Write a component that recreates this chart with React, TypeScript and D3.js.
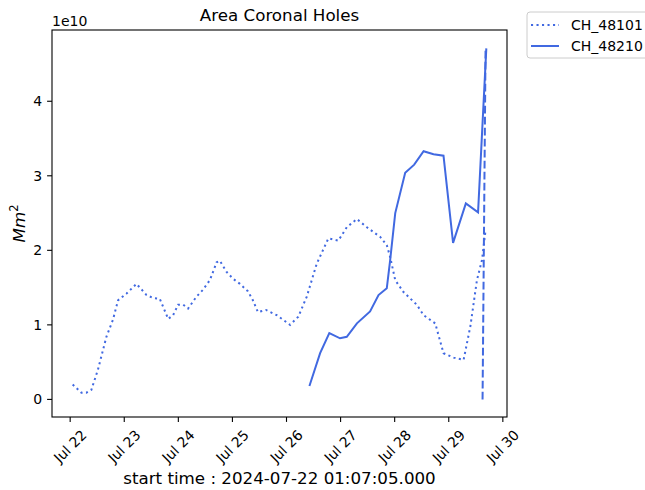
import React, { useEffect, useRef } from "react";
import * as d3 from "d3";

// values are in units of 1e10 Mm^2
const chartTitle = "Area Coronal Holes";
const startTime = "2024-07-22 01:07:05.000";

const ch48101Times = [
  "2024-07-22T01:07", "2024-07-22T05:00", "2024-07-22T07:10", "2024-07-22T09:25",
  "2024-07-22T12:20", "2024-07-22T16:05", "2024-07-22T19:00", "2024-07-22T21:15",
  "2024-07-23T01:00", "2024-07-23T05:25", "2024-07-23T09:55", "2024-07-23T12:50",
  "2024-07-23T15:45", "2024-07-23T19:30", "2024-07-23T21:40", "2024-07-23T23:55",
  "2024-07-24T02:10", "2024-07-24T04:20", "2024-07-24T08:05", "2024-07-24T10:55",
  "2024-07-24T14:00", "2024-07-24T17:00", "2024-07-24T18:25", "2024-07-24T21:25",
  "2024-07-25T00:15", "2024-07-25T03:20", "2024-07-25T06:55", "2024-07-25T09:05",
  "2024-07-25T11:20", "2024-07-25T14:55", "2024-07-25T19:40", "2024-07-26T01:35",
  "2024-07-26T05:15", "2024-07-26T09:00", "2024-07-26T13:25", "2024-07-26T18:35",
  "2024-07-26T23:00", "2024-07-27T02:45", "2024-07-27T07:15", "2024-07-27T11:40",
  "2024-07-27T17:35", "2024-07-27T20:30", "2024-07-27T22:00", "2024-07-28T00:15",
  "2024-07-28T03:55", "2024-07-28T09:50", "2024-07-28T12:50", "2024-07-28T18:00",
  "2024-07-28T21:40", "2024-07-29T02:10", "2024-07-29T06:35", "2024-07-29T09:35",
  "2024-07-29T12:30", "2024-07-29T14:45", "2024-07-29T16:15",
];
const ch48101Area = [
  0.2, 0.09, 0.09, 0.13, 0.4, 0.84, 1.07, 1.33,
  1.42, 1.55, 1.4, 1.36, 1.35, 1.08, 1.13, 1.27,
  1.27, 1.22, 1.38, 1.47, 1.6, 1.84, 1.86, 1.71,
  1.62, 1.55, 1.45, 1.33, 1.17, 1.2, 1.13, 1.0,
  1.11, 1.38, 1.82, 2.16, 2.13, 2.31, 2.42, 2.31,
  2.18, 2.07, 1.91, 1.6, 1.44, 1.27, 1.13, 1.02,
  0.62, 0.56, 0.53, 0.98, 1.6, 1.87, 2.25,
];

const ch48210Times = [
  "2024-07-26T10:10", "2024-07-26T14:55", "2024-07-26T19:00", "2024-07-26T23:45",
  "2024-07-27T02:45", "2024-07-27T07:15", "2024-07-27T13:05", "2024-07-27T16:50",
  "2024-07-27T20:30", "2024-07-27T22:00", "2024-07-28T00:15", "2024-07-28T04:40",
  "2024-07-28T08:40", "2024-07-28T12:50", "2024-07-28T17:15", "2024-07-28T21:40",
  "2024-07-29T01:55", "2024-07-29T07:35", "2024-07-29T13:00", "2024-07-29T16:40",
];
const ch48210Area = [
  0.18, 0.62, 0.89, 0.82, 0.84, 1.02, 1.18, 1.4,
  1.49, 1.87, 2.5, 3.04, 3.15, 3.33, 3.29, 3.27,
  2.1, 2.63, 2.51, 4.71,
];

// unlabelled dashed trace at the end
const extraTimes = ["2024-07-29T15:00", "2024-07-29T16:20"];
const extraArea = [0.0, 4.72];

const dayTicks = [
  "2024-07-22", "2024-07-23", "2024-07-24", "2024-07-25", "2024-07-26",
  "2024-07-27", "2024-07-28", "2024-07-29", "2024-07-30",
];
const yTicks = [0, 1, 2, 3, 4];

const App = () => {
  const ref = useRef<SVGSVGElement>(null);

  useEffect(() => {
    const svg = d3.select(ref.current);
    svg.selectAll("*").remove();

    const width = 645;
    const height = 490;
    const box = { left: 52, right: 507, top: 30, bottom: 417 };
    const font = "DejaVu Sans, sans-serif";
    const color = "#4169e1";

    const parse = d3.utcParse("%Y-%m-%dT%H:%M");
    const parseDay = d3.utcParse("%Y-%m-%d");

    const series = [
      { name: "CH_48101", t: ch48101Times, v: ch48101Area, dash: "2.1 3.4" },
      { name: "CH_48210", t: ch48210Times, v: ch48210Area, dash: null },
      { name: null, t: extraTimes, v: extraArea, dash: "7.7 3.3" },
    ].map((s) => ({
      ...s,
      pts: s.t.map((d, i) => [parse(d) as Date, s.v[i]] as [Date, number]),
    }));

    const all = series.flatMap((s) => s.pts);
    const [t0, t1] = d3.extent(all, (d) => +d[0]) as [number, number];
    const [v0, v1] = d3.extent(all, (d) => d[1]) as [number, number];
    const tp = (t1 - t0) * 0.05;
    const vp = (v1 - v0) * 0.05;

    const x = d3
      .scaleUtc()
      .domain([new Date(t0 - tp), new Date(t1 + tp)])
      .range([box.left, box.right]);
    const y = d3
      .scaleLinear()
      .domain([v0 - vp, v1 + vp])
      .range([box.bottom, box.top]);

    svg.attr("width", width).attr("height", height).style("font-family", font);
    svg.append("rect").attr("width", width).attr("height", height).attr("fill", "#fff");

    // lines
    const line = d3
      .line<[Date, number]>()
      .x((d) => x(d[0]))
      .y((d) => y(d[1]));

    series.forEach((s) => {
      svg
        .append("path")
        .datum(s.pts)
        .attr("fill", "none")
        .attr("stroke", color)
        .attr("stroke-width", 2)
        .attr("stroke-dasharray", s.dash)
        .attr("d", line);
    });

    // frame
    svg
      .append("rect")
      .attr("x", box.left)
      .attr("y", box.top)
      .attr("width", box.right - box.left)
      .attr("height", box.bottom - box.top)
      .attr("fill", "none")
      .attr("stroke", "#000")
      .attr("stroke-width", 1.1);

    // y ticks
    const yg = svg.append("g");
    yTicks.forEach((v) => {
      yg.append("line")
        .attr("x1", box.left - 4.9)
        .attr("x2", box.left)
        .attr("y1", y(v))
        .attr("y2", y(v))
        .attr("stroke", "#000")
        .attr("stroke-width", 1.1);
      yg.append("text")
        .attr("x", box.left - 9.8)
        .attr("y", y(v))
        .attr("dy", "0.35em")
        .attr("text-anchor", "end")
        .attr("font-size", 14)
        .text(v);
    });

    // x ticks, rotated labels
    const fmt = d3.utcFormat("%b %d");
    const xg = svg.append("g");
    dayTicks.forEach((d) => {
      const xp = x(parseDay(d) as Date);
      xg.append("line")
        .attr("x1", xp)
        .attr("x2", xp)
        .attr("y1", box.bottom)
        .attr("y2", box.bottom + 4.9)
        .attr("stroke", "#000")
        .attr("stroke-width", 1.1);
      const txt = xg
        .append("text")
        .attr("text-anchor", "middle")
        .attr("dy", "0.35em")
        .attr("font-size", 14)
        .text(fmt(parseDay(d) as Date));
      const w = (txt.node() as SVGTextElement).getComputedTextLength();
      const side = (w + 16) * Math.SQRT1_2;
      const cy = box.bottom + 9.8 + side / 2;
      txt.attr("transform", `translate(${xp},${cy}) rotate(-45)`);
    });

    // offset text
    svg
      .append("text")
      .attr("x", box.left)
      .attr("y", box.top - 4)
      .attr("font-size", 14)
      .text("1e10");

    // title
    svg
      .append("text")
      .attr("x", (box.left + box.right) / 2)
      .attr("y", 21)
      .attr("text-anchor", "middle")
      .attr("font-size", 16.7)
      .text(chartTitle);

    // x label
    svg
      .append("text")
      .attr("x", (box.left + box.right) / 2)
      .attr("y", 484)
      .attr("text-anchor", "middle")
      .attr("font-size", 16.7)
      .text(`start time : ${startTime}`);

    // y label
    const yl = svg
      .append("text")
      .attr("transform", `translate(25,${(box.top + box.bottom) / 2}) rotate(-90)`)
      .attr("text-anchor", "middle")
      .attr("font-size", 16.7);
    yl.append("tspan").attr("font-style", "italic").text("Mm");
    yl.append("tspan").attr("font-size", 11.5).attr("dy", -7).text("2");

    // legend
    const lg = svg.append("g").attr("transform", "translate(527,12)");
    lg.append("rect")
      .attr("width", 140)
      .attr("height", 46)
      .attr("rx", 3)
      .attr("fill", "#fff")
      .attr("stroke", "#ccc")
      .attr("stroke-width", 1);
    series
      .filter((s) => s.name)
      .forEach((s, i) => {
        const ly = 13 + i * 21;
        lg.append("line")
          .attr("x1", 4)
          .attr("x2", 32)
          .attr("y1", ly)
          .attr("y2", ly)
          .attr("stroke", color)
          .attr("stroke-width", 2)
          .attr("stroke-dasharray", s.dash);
        lg.append("text")
          .attr("x", 44)
          .attr("y", ly)
          .attr("dy", "0.35em")
          .attr("font-size", 14)
          .text(s.name as string);
      });
  }, []);

  return (
    <div style={{ position: "absolute", left: 0, top: 0 }}>
      <svg ref={ref}></svg>
    </div>
  );
};

export default App;
